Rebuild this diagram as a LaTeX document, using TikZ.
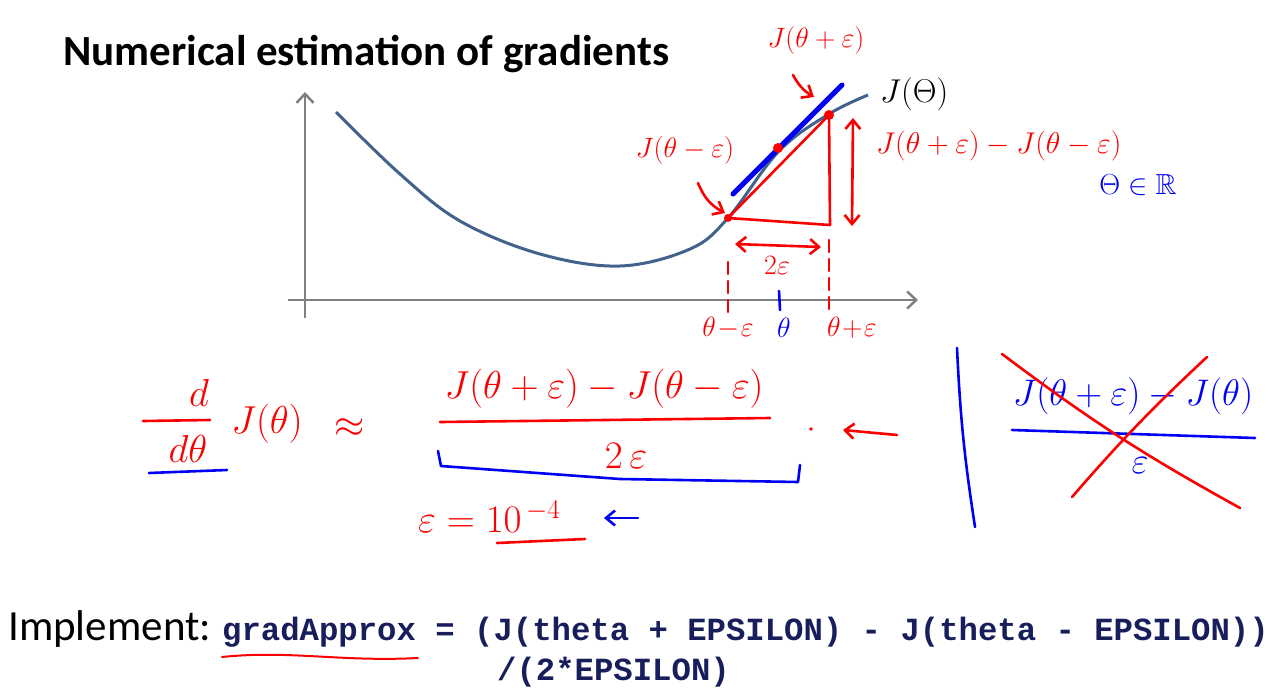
\RequirePackage{fix-cm}
\documentclass[tikz,border=0pt]{standalone}
\usepackage{fontspec}
\setmainfont{Carlito}
\setmonofont{Liberation Mono}
\usepackage{amsmath}
\usepackage{amssymb}
\usetikzlibrary{arrows.meta, calc, positioning}
\definecolor{curveblue}{RGB}{66,98,140}
\definecolor{axisgray}{RGB}{128,128,128}
\definecolor{codeblue}{RGB}{24,30,92}
\definecolor{inkred}{RGB}{250,0,0}
\definecolor{inkblue}{RGB}{0,0,245}
\tikzset{
  inkr/.style={inkred, line width=2.6pt, line cap=round, line join=round},
  inkb/.style={inkblue, line width=2.6pt, line cap=round, line join=round},
  handr/.style={inkred, inner sep=0pt, font=\fontsize{28}{30}\selectfont},
  handb/.style={inkblue, inner sep=0pt, font=\fontsize{28}{30}\selectfont},
  bigr/.style={inkred, inner sep=0pt, font=\fontsize{39}{42}\selectfont},
  bigb/.style={inkblue, inner sep=0pt, font=\fontsize{37}{40}\selectfont},
  barb/.style={-{Straight Barb[length=9pt,width=15pt]}},
  codetext/.style={codeblue, inner sep=0pt, anchor=base west, font=\ttfamily\bfseries\fontsize{32.3}{36}\selectfont},
}
\begin{document}
\begin{tikzpicture}[font=\small]
\begin{scope}[x=1pt,y=-1pt]
    \useasboundingbox (0,0) rectangle (1287,691);
    \node[anchor=base west,inner sep=0pt,font=\bfseries\fontsize{43}{46}\selectfont] (title) at (63,65) {Numerical estimation of gradients};

    %
    \draw[axisgray,line width=2.5pt,-{Straight Barb[length=9pt,width=17pt]}] (288,300)--(918,300);
    \draw[axisgray,line width=2.5pt,-{Straight Barb[length=9pt,width=17pt]}] (305,318)--(305,92);
    \draw[curveblue,line width=3pt] plot[smooth,tension=0.6] coordinates {(336,112) (400,174) (460,221) (540,254) (620,266) (690,249) (728,218) (779,151) (829,114) (868,95)};
    \node[anchor=west,inner sep=0pt,font=\fontsize{33}{36}\selectfont] (jtheta) at (880,94) {$J(\Theta)$};

    %
    \coordinate (pm) at (728,218);
    \coordinate (p0) at (778,148);
    \coordinate (pp) at (829,115);
    \coordinate (pr) at (830,225);
    \draw[inkblue,line width=5pt,line cap=round] (733,194)--(842,85);
    \draw[inkr] (pm)--(pp)--(pr);
    \draw[inkr] (pm)--(pr);
    \fill[inkred] (p0) circle (5pt);
    \fill[inkred] (pp) circle (5pt);
    \fill[inkred] (pm) circle (4pt);

    %
    \draw[inkr,{Straight Barb[length=9pt,width=15pt]}-{Straight Barb[length=9pt,width=15pt]}] (853,118)--(852,226);
    \draw[inkr,{Straight Barb[length=9pt,width=15pt]}-{Straight Barb[length=9pt,width=15pt]}] (735,244)--(821,247);
    \node[handr] (twoeps) at (777,265) {$2\varepsilon$};
    \draw[inkr,dashed,dash pattern=on 12pt off 7pt] (728,262)--(728,312);
    \draw[inkr,dashed,dash pattern=on 12pt off 7pt] (829,240)--(829,312);
    \draw[inkb] (779,291)--(780,310);
    \node[handr] (tminus) at (728,328) {$\theta\!-\!\varepsilon$};
    \node[handb] (tzero) at (784,328) {$\theta$};
    \node[handr] (tplus) at (852,328) {$\theta\!+\!\varepsilon$};

    %
    \node[handr] (jplus) at (816,40) {$J(\theta+\varepsilon)$};
    \draw[inkr,barb] (793,75) to[bend right=15] (814,97);
    \node[handr] (jminus) at (685,150) {$J(\theta-\varepsilon)$};
    \draw[inkr,barb] (698,183) to[bend right=20] (725,213);
    \node[handr,anchor=west,font=\fontsize{30}{34}\selectfont] (jdiff) at (876,146) {$J(\theta+\varepsilon)-J(\theta-\varepsilon)$};
    \node[handb,font=\fontsize{29}{32}\selectfont] (real) at (1138,185) {$\Theta\in\mathbb{R}$};

    %
    \node[bigr] (dnum) at (199,393) {$d$};
    \draw[inkr] (143,421)--(210,420);
    \node[bigr] (dden) at (188,449) {$d\theta$};
    \draw[inkb] (149,473)--(227,470);
    \node[bigr] (jth) at (267,424) {$J(\theta)$};
    \node[bigr] (approx) at (350,428) {$\approx$};

    %
    \node[bigr] (fnum) at (604,389) {$J(\theta+\varepsilon)-J(\theta-\varepsilon)$};
    \draw[inkr] (440,422)--(770,418);
    \node[bigr] (fden) at (626,456) {$2\,\varepsilon$};
    \draw[inkb] (438,451)--(441,466)--(620,479)--(798,482)--(800,465);
    \fill[inkred] (811,429) circle (1.8pt);
    \coordinate (ltail) at (897,435);
    \coordinate (lhead) at (843,430);
    \draw[inkr,barb] (ltail)--(lhead);

    %
    \node[bigr,anchor=west] (epsval) at (418,517) {$\varepsilon=10^{\,-4}$};
    \draw[inkr] (497,543)--(585,539);
    \draw[inkb,barb] (638,518)--(604,518);

    %
    \draw[inkb] (957,348) to[bend right=3] (975,527);
    \node[bigb] (onesided) at (1133,396) {$J(\theta+\varepsilon)-J(\theta)$};
    \draw[inkb] (1012,430)--(1255,438);
    \node[bigb] (oneden) at (1140,466) {$\varepsilon$};
    \draw[inkr] (1002,354) to[bend right=4] (1240,508);
    \draw[inkr] (1072,497) to[bend left=3] (1207,357);

    %
    \node[anchor=base west,inner sep=0pt,font=\fontsize{43}{46}\selectfont] (impl) at (8,640) {Implement:};
    \node[codetext] (code1) at (222,640) {gradApprox = (J(theta + EPSILON) - J(theta - EPSILON))};
    \node[codetext] (code2) at (497,680) {/(2*EPSILON)};
    \draw[inkr,line width=2pt] (222,657) .. controls (290,650) and (340,662) .. (418,658);
\end{scope}
\end{tikzpicture}
\end{document}
